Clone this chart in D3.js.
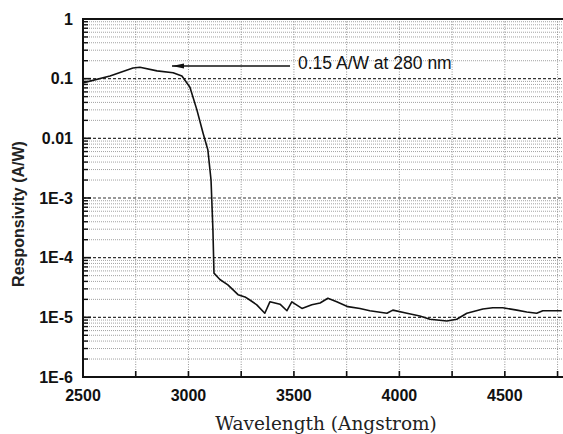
<!DOCTYPE html>
<html>
<head>
<meta charset="utf-8">
<script src="https://cdn.jsdelivr.net/npm/d3@7"></script>
<style>
  body { margin: 0; background: #fff; }
  svg { display: block; }
</style>
</head>
<body>
<svg id="chart"></svg>
<script>
const width = 563;
const height = 434;

const wavelength = [2500, 2628, 2737, 2770, 2851, 2927, 2969, 3007, 3040, 3069, 3092, 3107, 3116, 3121,
    3149, 3187, 3235, 3268, 3291, 3324, 3362, 3386, 3434, 3467, 3490, 3538, 3585, 3624, 3661,
    3703, 3756, 3813, 3860, 3941, 3969, 4036, 4097, 4145, 4225, 4272, 4320, 4396, 4443, 4490,
    4557, 4604, 4651, 4680, 4770];
const responsivity = [0.085, 0.111, 0.151, 0.155, 0.135, 0.126, 0.111, 0.072, 0.030, 0.0123, 0.0064, 0.0020, 2.9e-4, 5.5e-5,
    4.3e-5, 3.5e-5, 2.4e-5, 2.2e-5, 1.95e-5, 1.62e-5, 1.17e-5, 1.82e-5, 1.66e-5, 1.29e-5, 1.82e-5, 1.41e-5, 1.62e-5, 1.74e-5, 2.09e-5,
    1.82e-5, 1.51e-5, 1.41e-5, 1.29e-5, 1.17e-5, 1.32e-5, 1.17e-5, 1.05e-5, 9.3e-6, 8.7e-6, 9.3e-6, 1.17e-5, 1.38e-5, 1.45e-5, 1.45e-5,
    1.32e-5, 1.23e-5, 1.17e-5, 1.29e-5, 1.29e-5];

const xTicks = [2500, 3000, 3500, 4000, 4500];
const yTicks = [1, 0.1, 0.01, 1e-3, 1e-4, 1e-5, 1e-6];
const yTickLabels = ["1", "0.1", "0.01", "1E-3", "1E-4", "1E-5", "1E-6"];

const annotationText = "0.15 A/W at 280 nm";

const margin = {top: 19, left: 83, bottom: 57};
const plotRight = 566;

const svg = d3.select("#chart").attr("width", width).attr("height", height);

const x = d3.scaleLinear().domain([2500, 4790]).range([margin.left, plotRight]);
const y = d3.scaleLog().domain([1e-6, 1]).range([height - margin.bottom, margin.top]);

const x0 = margin.left, y0 = height - margin.bottom;

// minor values
const minorY = [];
for (let e = -6; e < 0; e++) {
    for (let k = 2; k <= 9; k++) minorY.push(k * Math.pow(10, e));
}
const gridX = d3.range(2750, 4790, 250);

const grid = svg.append("g");

grid.selectAll(".minor-y")
    .data(minorY)
    .enter()
    .append("line")
    .attr("x1", x0).attr("x2", plotRight)
    .attr("y1", d => y(d)).attr("y2", d => y(d))
    .attr("stroke", "#8a8a8a")
    .attr("stroke-width", 0.8)
    .attr("stroke-dasharray", "1,1");

grid.selectAll(".vgrid")
    .data(gridX)
    .enter()
    .append("line")
    .attr("x1", d => x(d)).attr("x2", d => x(d))
    .attr("y1", margin.top).attr("y2", y0)
    .attr("stroke", "#777")
    .attr("stroke-width", 0.8)
    .attr("stroke-dasharray", "1,1.5");

grid.selectAll(".major-y")
    .data(yTicks.slice(1, -1))
    .enter()
    .append("line")
    .attr("x1", x0).attr("x2", plotRight)
    .attr("y1", d => y(d)).attr("y2", d => y(d))
    .attr("stroke", "#333")
    .attr("stroke-width", 1.1)
    .attr("stroke-dasharray", "3,2");

// left ticks (pointing into the plot)
const ticks = svg.append("g").attr("stroke", "#111");
ticks.selectAll(".ty")
    .data(yTicks)
    .enter()
    .append("line")
    .attr("x1", x0).attr("x2", x0 + 8)
    .attr("y1", d => y(d)).attr("y2", d => y(d))
    .attr("stroke-width", 1.6);
ticks.selectAll(".tym")
    .data(minorY)
    .enter()
    .append("line")
    .attr("x1", x0).attr("x2", x0 + 5)
    .attr("y1", d => y(d)).attr("y2", d => y(d))
    .attr("stroke-width", 1.4);
ticks.selectAll(".tx")
    .data(d3.range(2750, 4790, 250))
    .enter()
    .append("line")
    .attr("x1", d => x(d)).attr("x2", d => x(d))
    .attr("y1", y0).attr("y2", y0 - 6)
    .attr("stroke-width", 1.6);

// frame
svg.append("line").attr("x1", x0).attr("x2", x0).attr("y1", margin.top).attr("y2", y0)
    .attr("stroke", "#111").attr("stroke-width", 2);
svg.append("line").attr("x1", x0 - 1).attr("x2", width).attr("y1", y0).attr("y2", y0)
    .attr("stroke", "#111").attr("stroke-width", 2.2);
svg.append("line").attr("x1", x0 - 1).attr("x2", width).attr("y1", margin.top).attr("y2", margin.top)
    .attr("stroke", "#111").attr("stroke-width", 2.2);

// curve
const line = d3.line()
    .x((d, i) => x(wavelength[i]))
    .y(d => y(d));

svg.append("path")
    .datum(responsivity)
    .attr("d", line)
    .attr("fill", "none")
    .attr("stroke", "#111")
    .attr("stroke-width", 1.6)
    .attr("stroke-linejoin", "round");

// tick labels
svg.append("g")
    .selectAll("text")
    .data(yTicks)
    .enter()
    .append("text")
    .attr("x", x0 - 10)
    .attr("y", d => y(d))
    .attr("dy", "0.36em")
    .attr("text-anchor", "end")
    .attr("font-family", "Liberation Sans, Arial, sans-serif")
    .attr("font-weight", "bold")
    .attr("font-size", 16)
    .attr("fill", "#111")
    .text((d, i) => yTickLabels[i]);

svg.append("g")
    .selectAll("text")
    .data(xTicks)
    .enter()
    .append("text")
    .attr("x", d => x(d))
    .attr("y", y0 + 24)
    .attr("text-anchor", "middle")
    .attr("font-family", "Liberation Sans, Arial, sans-serif")
    .attr("font-weight", "bold")
    .attr("font-size", 16)
    .attr("fill", "#111")
    .text(d => d);

// axis titles
svg.append("text")
    .attr("x", 326)
    .attr("y", 430)
    .attr("text-anchor", "middle")
    .attr("font-family", "DejaVu Serif, serif")
    .attr("font-size", 18.5)
    .attr("fill", "#222")
    .text("Wavelength (Angstrom)");

svg.append("text")
    .attr("transform", "translate(24,214) rotate(-90)")
    .attr("text-anchor", "middle")
    .attr("font-family", "Liberation Sans, Arial, sans-serif")
    .attr("font-weight", "bold")
    .attr("font-size", 16)
    .attr("fill", "#222")
    .text("Responsivity (A/W)");

// annotation arrow
svg.append("defs").append("marker")
    .attr("id", "arrow")
    .attr("viewBox", "0 0 12 6")
    .attr("refX", 0).attr("refY", 3)
    .attr("markerWidth", 12).attr("markerHeight", 6)
    .attr("markerUnits", "userSpaceOnUse")
    .attr("orient", "auto")
    .append("path")
    .attr("d", "M0,3 L12,0.5 L12,5.5 Z")
    .attr("fill", "#111");

svg.append("line")
    .attr("x1", 172).attr("x2", 290)
    .attr("y1", 66).attr("y2", 66)
    .attr("stroke", "#111")
    .attr("stroke-width", 1.3)
    .attr("marker-start", "url(#arrow)");

svg.append("text")
    .attr("x", 298)
    .attr("y", 69)
    .attr("font-family", "Liberation Sans, Arial, sans-serif")
    .attr("font-size", 17.5)
    .attr("fill", "#111")
    .text(annotationText);
</script>
</body>
</html>
